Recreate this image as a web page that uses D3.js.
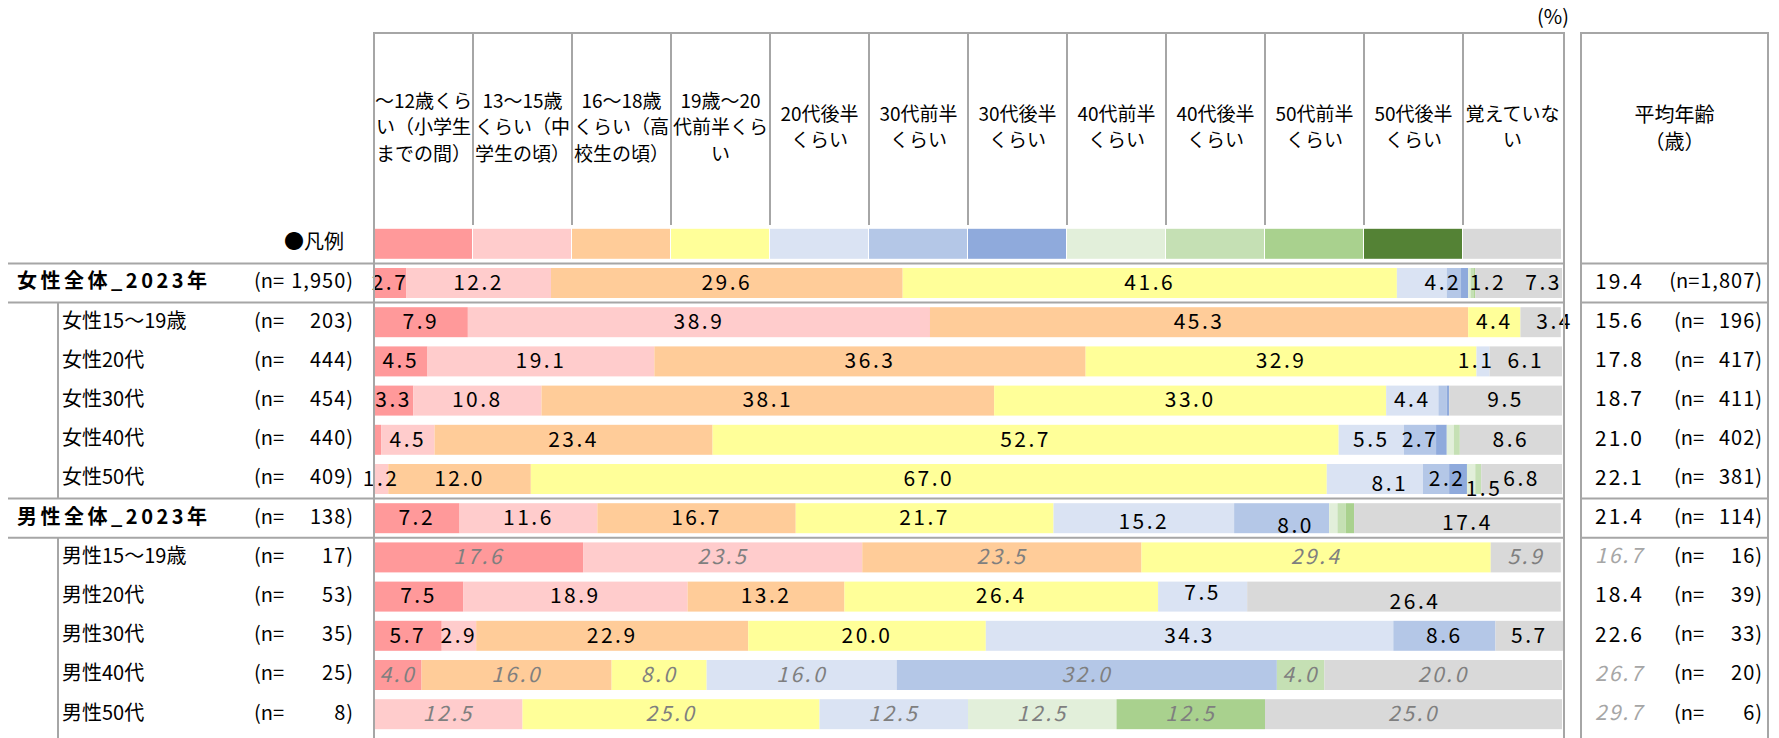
<!DOCTYPE html>
<html>
<head>
<meta charset="utf-8">
<script src="https://cdn.jsdelivr.net/npm/d3@7"></script>
<style>
  body { margin: 0; background: #fff; }
  svg text { font-family: "Noto Sans CJK JP", "Noto Sans", sans-serif; fill: #000; }
</style>
</head>
<body>
<svg id="chart" width="1779" height="738"></svg>
<script>
// categories (header of each column, already wrapped as in the source sheet)
const categories = [
  ["～12歳くら", "い（小学生", "までの間）"],
  ["13～15歳", "くらい（中", "学生の頃）"],
  ["16～18歳", "くらい（高", "校生の頃）"],
  ["19歳～20", "代前半くら", "い"],
  ["20代後半", "くらい"],
  ["30代前半", "くらい"],
  ["30代後半", "くらい"],
  ["40代前半", "くらい"],
  ["40代後半", "くらい"],
  ["50代前半", "くらい"],
  ["50代後半", "くらい"],
  ["覚えていな", "い"]
];
const colors = ["#ff999a", "#ffcccc", "#ffcc99", "#ffff99", "#dae3f3", "#b4c7e7",
                "#8faadc", "#e2efda", "#c5e0b4", "#a9d18e", "#548235", "#d9d9d9"];

// rows
const rowLabels = ["女性全体_2023年", "女性15～19歳", "女性20代", "女性30代", "女性40代", "女性50代",
                   "男性全体_2023年", "男性15～19歳", "男性20代", "男性30代", "男性40代", "男性50代"];
const rowN = ["1,950", "203", "444", "454", "440", "409", "138", "17", "53", "35", "25", "8"];
const groupRows = [0, 6];
const smallBaseRows = [7, 10, 11];

// percentages per row, in category order
const female2023 = [2.7, 12.2, 29.6, 41.6, 4.2, 1.2, 0.6, 0.2, 0.3, 0.1, 0.0, 7.3];
const female15 = [7.9, 38.9, 45.3, 4.4, 0, 0, 0, 0, 0, 0, 0, 3.4];
const female20 = [4.5, 19.1, 36.3, 32.9, 1.1, 0, 0, 0, 0, 0, 0, 6.1];
const female30 = [3.3, 10.8, 38.1, 33.0, 4.4, 0.7, 0.2, 0, 0, 0, 0, 9.5];
const female40 = [0.6, 4.5, 23.4, 52.7, 5.5, 2.7, 0.9, 0.6, 0.5, 0, 0, 8.6];
const female50 = [0, 1.2, 12.0, 67.0, 8.1, 2.2, 1.5, 0.7, 0.5, 0, 0, 6.8];
const male2023 = [7.2, 11.6, 16.7, 21.7, 15.2, 8.0, 0, 0.7, 0.7, 0.7, 0, 17.4];
const male15 = [17.6, 23.5, 23.5, 29.4, 0, 0, 0, 0, 0, 0, 0, 5.9];
const male20 = [7.5, 18.9, 13.2, 26.4, 7.5, 0, 0, 0, 0, 0, 0, 26.4];
const male30 = [5.7, 2.9, 22.9, 20.0, 34.3, 8.6, 0, 0, 0, 0, 0, 5.7];
const male40 = [4.0, 0, 16.0, 8.0, 16.0, 32.0, 0, 0, 4.0, 0, 0, 20.0];
const male50 = [0, 12.5, 0, 25.0, 12.5, 0, 0, 12.5, 0, 12.5, 0, 25.0];
const rowValues = [female2023, female15, female20, female30, female40, female50,
                   male2023, male15, male20, male30, male40, male50];

// average age column
const avgAge = [19.4, 15.6, 17.8, 18.7, 21.0, 22.1, 21.4, 16.7, 18.4, 22.6, 26.7, 29.7];
const avgN = ["1,807", "196", "417", "411", "402", "381", "114", "16", "39", "33", "20", "6"];

// hand-moved labels in the source chart ("row-col": [dx, dy])
const labelShift = {
  "0-4": [21, 0], "0-5": [34, 0], "0-11": [25, 0],
  "1-11": [14, 0], "2-4": [-7, 0],
  "5-4": [15, 5], "5-5": [11, 0], "5-6": [26, 10],
  "6-4": [0, 4], "6-5": [14, 8], "6-11": [10, 5],
  "8-4": [0, -3], "8-11": [11, 6]
};

const svg = d3.select("#chart");
const lineColor = "#a6a6a6";
const fmt = d3.format(".1f");

const x = d3.scaleLinear().domain([0, 100]).range([374, 1562]);
const col = d3.scaleBand().domain(d3.range(categories.length)).range([374, 1562]);
const y = d3.scaleBand().domain(d3.range(rowLabels.length))
  .range([263.4, 733.8]).paddingInner(0.235).paddingOuter(0.1175);
const gap = y.step() - y.bandwidth();

// right panel geometry
const avgLeft = 1581, avgRight = 1768;

// "(n=" prefix + right aligned count; prefix moves left when the count is wide
function nLabel(xStart, xEnd, cy, n) {
  const num = svg.append("text")
    .attr("x", xEnd).attr("y", cy).attr("text-anchor", "end").attr("dominant-baseline", "middle")
    .style("font-size", "20px").style("letter-spacing", "1px").text(n + ")");
  const pre = svg.append("text")
    .attr("y", cy).attr("dominant-baseline", "middle")
    .style("font-size", "20px").text("(n=");
  const wNum = num.node().getComputedTextLength();
  const wPre = pre.node().getComputedTextLength();
  pre.attr("x", Math.min(xStart, xEnd - wNum - wPre - 1));
}

// header text
categories.forEach((lines, i) => {
  const cx = col(i) + col.bandwidth() / 2;
  const top = 129 - (lines.length - 1) * 26.5 / 2;
  lines.forEach((t, k) => {
    svg.append("text")
      .attr("x", cx).attr("y", top + k * 26.5)
      .attr("text-anchor", "middle").attr("dominant-baseline", "middle")
      .style("font-size", "19px")
      .text(t);
  });
});

// header separators
svg.selectAll("line.colsep")
  .data(d3.range(1, categories.length))
  .enter().append("line")
  .attr("x1", d => col(d)).attr("x2", d => col(d))
  .attr("y1", 33).attr("y2", 225)
  .attr("stroke", lineColor).attr("stroke-width", 2);

// legend swatches
const legendY = y(0) - y.step();
svg.selectAll("rect.legend")
  .data(colors)
  .enter().append("rect")
  .attr("x", (d, i) => col(i)).attr("y", legendY)
  .attr("width", col.bandwidth() - 1).attr("height", y.bandwidth())
  .attr("fill", d => d);

svg.append("text")
  .attr("x", 344).attr("y", legendY + y.bandwidth() / 2)
  .attr("text-anchor", "end").attr("dominant-baseline", "middle")
  .style("font-size", "20px").text("●凡例");

svg.append("text")
  .attr("x", 1553).attr("y", 19)
  .attr("text-anchor", "middle").attr("dominant-baseline", "middle")
  .style("font-size", "20px").text("(%)");

// bars
rowValues.forEach((vals, r) => {
  const g = svg.append("g");
  const stacked = [];
  let acc = 0;
  vals.forEach((v, c) => { stacked.push({ c, v, x0: acc, x1: acc + v }); acc += v; });
  g.selectAll("rect")
    .data(stacked.filter(d => d.v > 0))
    .enter().append("rect")
    .attr("x", d => x(d.x0)).attr("y", y(r))
    .attr("width", d => x(d.x1) - x(d.x0)).attr("height", y.bandwidth())
    .attr("fill", d => colors[d.c]);

  const small = smallBaseRows.includes(r);
  g.selectAll("text")
    .data(stacked.filter(d => d.v >= 1))
    .enter().append("text")
    .attr("x", d => (x(d.x0) + x(d.x1)) / 2 + (labelShift[r + "-" + d.c] || [0, 0])[0])
    .attr("y", d => y(r) + y.bandwidth() / 2 + 1 + (labelShift[r + "-" + d.c] || [0, 0])[1])
    .attr("text-anchor", "middle").attr("dominant-baseline", "middle")
    .style("font-size", "21px").style("letter-spacing", "2.5px")
    .style("font-style", small ? "italic" : "normal")
    .style("fill", small ? "#7f7f7f" : "#000")
    .text(d => fmt(d.v));
});

// row labels
rowLabels.forEach((t, r) => {
  const cy = y(r) + y.bandwidth() / 2;
  const isGroup = groupRows.includes(r);
  svg.append("text")
    .attr("x", isGroup ? 17 : 62).attr("y", cy)
    .attr("dominant-baseline", "middle")
    .style("font-size", "20px")
    .style("font-weight", isGroup ? "bold" : "normal")
    .style("letter-spacing", isGroup ? "3.5px" : "0px")
    .text(t);
  nLabel(254, 354, cy, rowN[r]);

  // average age panel
  const small = smallBaseRows.includes(r);
  svg.append("text")
    .attr("x", avgLeft + 14).attr("y", cy).attr("dominant-baseline", "middle")
    .style("font-size", "21px").style("letter-spacing", "2px")
    .style("font-style", small ? "italic" : "normal")
    .style("fill", small ? "#a6a6a6" : "#000")
    .text(fmt(avgAge[r]));
  nLabel(avgLeft + 93, avgRight - 5, cy, avgN[r]);
});

svg.append("text")
  .attr("x", (avgLeft + avgRight) / 2).attr("y", 117).attr("text-anchor", "middle").attr("dominant-baseline", "middle")
  .style("font-size", "20px").text("平均年齢");
svg.append("text")
  .attr("x", (avgLeft + avgRight) / 2).attr("y", 144).attr("text-anchor", "middle").attr("dominant-baseline", "middle")
  .style("font-size", "20px").text("（歳）");

// frame lines
const sepRows = [0, 1, 6, 7];
const frame = svg.append("g").attr("stroke", lineColor).attr("stroke-width", 2).attr("fill", "none");
sepRows.forEach(r => {
  const yy = y(r) - gap / 2;
  frame.append("line").attr("x1", 8).attr("x2", 1564).attr("y1", yy).attr("y2", yy);
  frame.append("line").attr("x1", avgLeft).attr("x2", avgRight).attr("y1", yy).attr("y2", yy);
});
frame.append("path").attr("d", "M374,738V33H1564V738");
frame.append("path").attr("d", `M${avgLeft},738V33H${avgRight}V738`);
frame.append("line").attr("x1", 58).attr("x2", 58).attr("y1", y(1) - gap / 2).attr("y2", y(6) - gap / 2);
frame.append("line").attr("x1", 58).attr("x2", 58).attr("y1", y(7) - gap / 2).attr("y2", 738);
</script>
</body>
</html>
